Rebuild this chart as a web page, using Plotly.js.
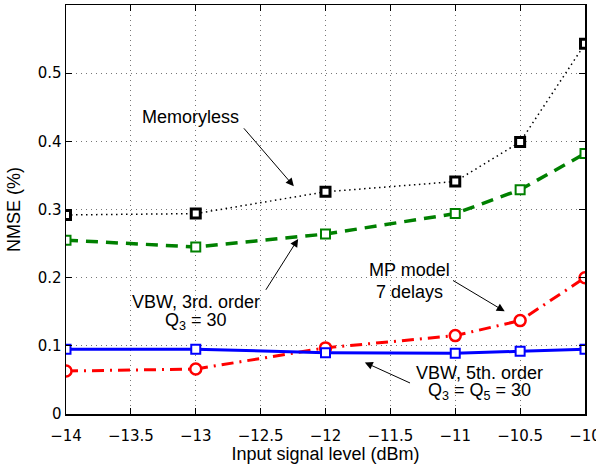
<!DOCTYPE html>
<html>
<head>
<meta charset="utf-8">
<script src="https://cdn.plot.ly/plotly-3.0.1.min.js"></script>
<style>html,body{margin:0;padding:0;background:#fff}#plot{width:596px;height:468px}</style>
</head>
<body>
<div id="plot"></div>
<script>
const inputLevel = [-14, -13, -12, -11, -10.5, -10];
const memoryless = [0.292, 0.294, 0.326, 0.341, 0.399, 0.543];
const vbw3 = [0.255, 0.245, 0.264, 0.294, 0.329, 0.382];
const mpModel = [0.063, 0.066, 0.097, 0.115, 0.137, 0.200];
const vbw5 = [0.095, 0.095, 0.090, 0.089, 0.092, 0.095];
const xTicks = [-14, -13.5, -13, -12.5, -12, -11.5, -11, -10.5, -10];
const xTickText = ['\u221214', '\u221213.5', '\u221213', '\u221212.5', '\u221212', '\u221211.5', '\u221211', '\u221210.5', '\u221210'];
const yTicks = [0, 0.1, 0.2, 0.3, 0.4, 0.5];
const yTickText = ['0', '0.1', '0.2', '0.3', '0.4', '0.5'];

const traces = [
  {x: inputLevel, y: memoryless, mode: 'lines+markers',
   line: {color: '#000000', width: 1.5, dash: '1.5px,3.5px'},
   marker: {symbol: 'square', size: 9, color: '#ffffff', line: {color: '#000000', width: 3}}},
  {x: inputLevel, y: vbw3, mode: 'lines+markers',
   line: {color: '#008000', width: 3.5, dash: '12px,8px'},
   marker: {symbol: 'square', size: 9, color: '#ffffff', line: {color: '#008000', width: 2}}},
  {x: inputLevel, y: mpModel, mode: 'lines+markers',
   line: {color: '#ff0000', width: 3, dash: '12px,6px,2px,6px'},
   marker: {symbol: 'circle', size: 11, color: '#ffffff', line: {color: '#ff0000', width: 2.5}}},
  {x: inputLevel, y: vbw5, mode: 'lines+markers',
   line: {color: '#0000ff', width: 3},
   marker: {symbol: 'square', size: 9, color: '#ffffff', line: {color: '#0000ff', width: 2}}}
];

const aFont = {family: 'Liberation Sans, Arial, sans-serif', size: 18, color: '#000'};
function label(x, y, t) {
  return {x: x, y: y, xref: 'x', yref: 'y', text: t, showarrow: false, font: aFont,
          xanchor: 'center', yanchor: 'middle'};
}
function arrow(ax, ay, x, y) {
  return {x: x, y: y, ax: ax, ay: ay, xref: 'x', yref: 'y', axref: 'x', ayref: 'y',
          text: '', showarrow: true, arrowhead: 2, arrowsize: 1.6, arrowwidth: 1,
          arrowcolor: '#000', standoff: 0, startstandoff: 0};
}

const layout = {
  width: 596, height: 468,
  margin: {l: 66, r: 11, t: 5, b: 54},
  paper_bgcolor: '#ffffff', plot_bgcolor: '#ffffff',
  showlegend: false,
  font: {family: 'DejaVu Sans, sans-serif', size: 15, color: '#000'},
  xaxis: {
    range: [-14, -10], tickvals: xTicks, ticktext: xTickText,
    ticks: 'inside', ticklen: 6, tickcolor: '#000', tickwidth: 1,
    showline: true, linecolor: '#000', linewidth: 1.5, mirror: 'ticks',
    showgrid: true, gridcolor: '#777', gridwidth: 1, griddash: '1px,4px',
    zeroline: false, ticklabeloverflow: 'allow', ticklabelstandoff: 7,
    tickfont: {family: 'DejaVu Sans, sans-serif', size: 15},
    title: {text: 'Input signal level (dBm)', standoff: 4,
            font: {family: 'Liberation Sans, Arial, sans-serif', size: 18}}
  },
  yaxis: {
    range: [0, 0.6], tickvals: yTicks, ticktext: yTickText,
    ticks: 'inside', ticklen: 6, tickcolor: '#000', tickwidth: 1,
    showline: true, linecolor: '#000', linewidth: 1.5, mirror: 'ticks',
    showgrid: true, gridcolor: '#777', gridwidth: 1, griddash: '1px,4px',
    zeroline: false, ticklabeloverflow: 'allow',
    tickfont: {family: 'DejaVu Sans, sans-serif', size: 15},
    title: {text: 'NMSE (%)', standoff: 12,
            font: {family: 'Liberation Sans, Arial, sans-serif', size: 18}}
  },
  annotations: [
    label(-13.037, 0.4354, 'Memoryless'),
    arrow(-12.639, 0.4213, -12.244, 0.3341),
    label(-12.995, 0.1638, 'VBW, 3rd. order'),
    label(-12.995, 0.136, 'Q<sub>3</sub> = 30'),
    arrow(-12.467, 0.180, -12.211, 0.2569),
    label(-11.35, 0.2118, 'MP model'),
    label(-11.35, 0.1795, '7 delays'),
    arrow(-11.029, 0.1972, -10.619, 0.1506),
    label(-10.811, 0.0606, 'VBW, 5th. order'),
    label(-10.811, 0.0332, 'Q<sub>3</sub> = Q<sub>5</sub> = 30'),
    arrow(-11.337, 0.0445, -11.697, 0.0757)
  ]
};

Plotly.newPlot('plot', traces, layout, {displayModeBar: false, staticPlot: true});
</script>
</body>
</html>
